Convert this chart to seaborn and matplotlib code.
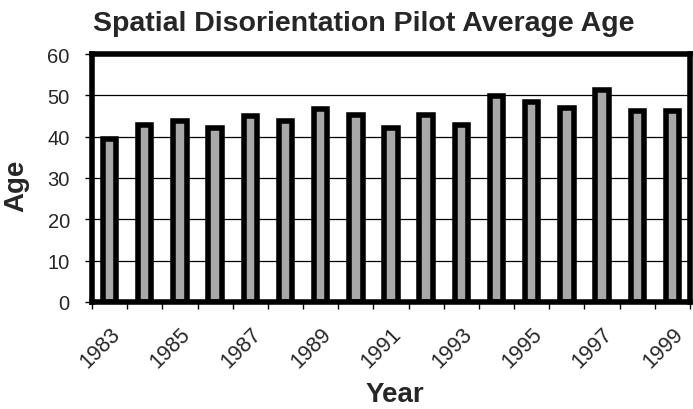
import matplotlib
matplotlib.use("Agg")
import matplotlib.pyplot as plt
import matplotlib.transforms as mtransforms
import seaborn as sns
import pandas as pd
from matplotlib.ticker import MultipleLocator, FixedLocator

years = list(range(1983, 2000))
avg_age = [39.4, 42.8, 43.7, 42.0, 45.1, 43.7, 46.8, 45.2, 42.0,
           45.2, 42.9, 49.9, 48.4, 46.9, 51.2, 46.1, 46.1]
year_labels = [str(y) for y in years]

df = pd.DataFrame({"Year": year_labels, "Age": avg_age})

sns.set_theme(style="white")
plt.rcParams["font.family"] = ["Liberation Sans", "DejaVu Sans"]

fig = plt.figure(figsize=(6.93, 4.10), dpi=100)
ax = fig.add_axes([92 / 693, 107 / 410, 598 / 693, 248 / 410])

sns.barplot(data=df, x="Year", y="Age", color="#a8a8a8", edgecolor="black",
            linewidth=4, width=0.38, saturation=1, ax=ax, zorder=3)

ax.set_ylim(0, 60)
ax.set_xlim(-0.5, len(years) - 0.5)
ax.yaxis.set_major_locator(MultipleLocator(10))
ax.grid(axis="y", color="black", linewidth=0.9, zorder=0)
ax.set_axisbelow(True)

for sp in ax.spines.values():
    sp.set_visible(True)
    sp.set_color("black")
    sp.set_linewidth(4)
    sp.set_zorder(5)

# labels on every other year, tick marks on category boundaries
label_pos = list(range(0, len(years), 2))
ax.xaxis.set_major_locator(FixedLocator(label_pos))
ax.set_xticklabels([year_labels[i] for i in label_pos], rotation=45,
                   ha="right", rotation_mode="anchor", fontsize=15.5)
shift = mtransforms.ScaledTranslation(-5 / 100, 0, fig.dpi_scale_trans)
for lbl in ax.get_xticklabels():
    lbl.set_transform(lbl.get_transform() + shift)
ax.xaxis.set_minor_locator(FixedLocator([i - 0.5 for i in range(len(years) + 1)]))
ax.tick_params(axis="x", which="major", length=0, pad=15)
ax.tick_params(axis="x", which="minor", length=5, width=1, color="black",
               direction="out", bottom=True)
ax.tick_params(axis="y", which="major", length=5, width=1, color="black",
               direction="out", left=True, labelsize=14.5, pad=11)

ax.set_xlabel("Year", fontsize=20, fontweight="bold")
ax.xaxis.set_label_coords((395 - 92) / 598, (303 - 395) / 248)
ax.xaxis.label.set_va("center")
ax.set_ylabel("Age", fontsize=20, fontweight="bold")
ax.yaxis.set_label_coords((16 - 92) / 598, (303 - 186) / 248)
ax.yaxis.label.set_va("center")

fig.suptitle("Spatial Disorientation Pilot Average Age", fontsize=20.5,
             fontweight="bold", x=364 / 693, y=1 - 24 / 410, va="center")

fig.savefig("out.png", dpi=100)
